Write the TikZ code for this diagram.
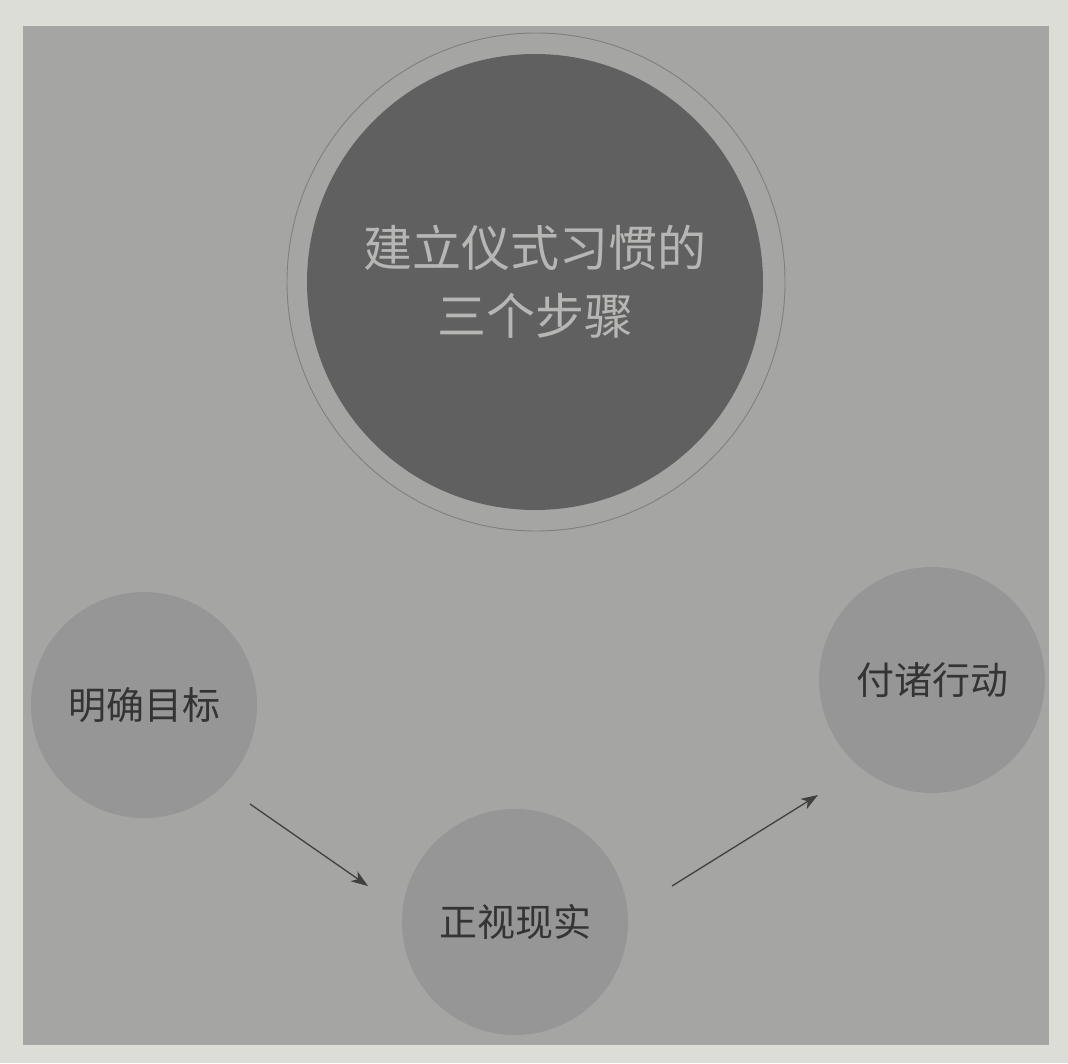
\documentclass[tikz,border=0pt]{standalone}
\usepackage{fontspec}
\newfontfamily\cjk{Noto Sans CJK SC}
\usetikzlibrary{arrows.meta}
\definecolor{pagebg}{RGB}{221,221,216}
\definecolor{panel}{RGB}{165,165,164}
\definecolor{hubfill}{RGB}{96,96,96}
\definecolor{hubtext}{RGB}{182,182,180}
\definecolor{ringline}{RGB}{128,128,127}
\definecolor{stepfill}{RGB}{150,150,150}
\definecolor{steptext}{RGB}{52,52,52}
\definecolor{arrowcol}{RGB}{64,64,64}
\tikzset{
  hub/.style={circle, fill=hubfill, minimum size=456pt, inner sep=0pt,
    text=hubtext, font=\cjk\fontsize{49}{70}\selectfont, align=center},
  ring/.style={circle, draw=ringline, line width=0.9pt, minimum size=498pt, inner sep=0pt},
  stepnode/.style={circle, fill=stepfill, minimum size=226pt, inner sep=0pt,
    text=steptext, font=\cjk\fontsize{38}{44}\selectfont},
  flow/.style={draw=arrowcol, line width=1.3pt, -{Stealth[length=17pt, width=12pt, inset=5pt]}}
}
\begin{document}
\begin{tikzpicture}[x=1pt, y=-1pt]
  % page and printed panel
  \fill[pagebg] (0,0) rectangle (1068,1063);
  \fill[panel] (23,26) rectangle (1049,1045);
  \useasboundingbox (0,0) rectangle (1068,1063);

  % central title circle with its outer ring
  \node[ring] (halo) at (536,282) {};
  \node[hub] (title) at (535,282) {\raisebox{-2pt}{建立仪式习惯的}\\[-2pt]\raisebox{-2pt}{三个步骤}};

  % the three steps
  \node[stepnode] (goal) at (144,705) {明确目标};
  \node[stepnode] (face) at (515,922) {正视现实};
  \node[stepnode] (act) at (932,680) {付诸行动};

  % arrow ends between the steps
  \coordinate (a1s) at (250,804);
  \coordinate (a1e) at (368,886);
  \coordinate (a2s) at (672,886);
  \coordinate (a2e) at (818,795);
  \draw[flow] (a1s) -- (a1e);
  \draw[flow] (a2s) -- (a2e);
\end{tikzpicture}
\end{document}
